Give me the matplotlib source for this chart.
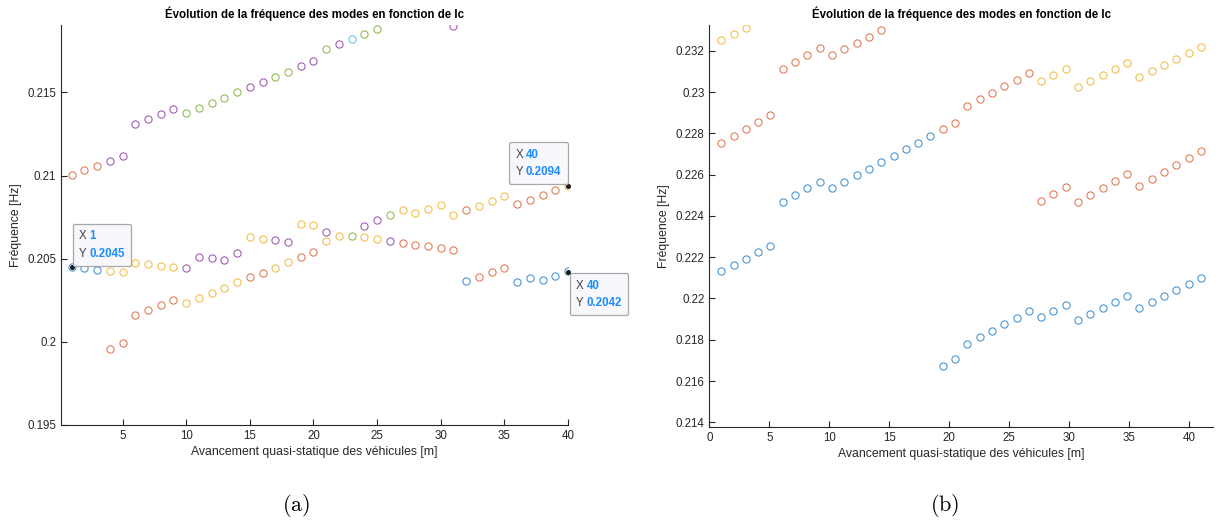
import numpy as np
import matplotlib
matplotlib.use("Agg")
import matplotlib.pyplot as plt
from matplotlib.offsetbox import AnnotationBbox, TextArea, HPacker, VPacker

plt.rcParams['font.family'] = ['Liberation Sans', 'DejaVu Sans']
plt.rcParams['mathtext.fontset'] = 'cm'

#%% data, panel (a): frequencies read per mode colour
xa_blue = [1, 2, 3, 32, 36, 37, 38, 39, 40]
ya_blue = [0.2045, 0.20443, 0.20433, 0.20365, 0.20357, 0.20383, 0.20369, 0.20397, 0.20424]

xa_orange = [1, 2, 3, 4, 5, 6, 7, 8, 9, 15, 16, 19, 20, 27, 28, 29, 30, 31, 32,
             33, 34, 35, 36, 37, 38, 39]
ya_orange = [0.21003, 0.21031, 0.21059, 0.1996, 0.19992, 0.20159, 0.20189, 0.20221,
             0.20251, 0.20387, 0.20417, 0.20509, 0.2054, 0.20594, 0.20584, 0.20575,
             0.20564, 0.20552, 0.20792, 0.20393, 0.20421, 0.20447, 0.20828, 0.20856,
             0.20884, 0.20912]

xa_yellow = [4, 5, 6, 7, 8, 9, 10, 11, 12, 13, 14, 15, 16, 17, 18, 19, 20, 21, 22,
             24, 25, 27, 28, 29, 30, 31, 33, 34, 35, 40]
ya_yellow = [0.20425, 0.20419, 0.20475, 0.20467, 0.20459, 0.20451, 0.20233, 0.20265,
             0.20295, 0.20325, 0.20357, 0.2063, 0.2062, 0.20447, 0.20479, 0.2071,
             0.20702, 0.20606, 0.20638, 0.20628, 0.20618, 0.20792, 0.20772, 0.20796,
             0.20824, 0.20764, 0.20818, 0.20848, 0.20876, 0.2094]

xa_purple = [4, 5, 6, 7, 8, 9, 10, 11, 12, 13, 14, 15, 16, 17, 18, 19, 20, 21, 22,
             24, 25, 26, 31]
ya_purple = [0.21087, 0.21119, 0.21308, 0.21338, 0.21368, 0.21402, 0.20443, 0.20512,
             0.20503, 0.20494, 0.20534, 0.2153, 0.21562, 0.20612, 0.20602, 0.21656,
             0.21686, 0.20662, 0.21792, 0.20698, 0.2073, 0.20606, 0.21899]

xa_green = [10, 11, 12, 13, 14, 17, 18, 21, 23, 24, 25, 26]
ya_green = [0.21377, 0.21408, 0.21438, 0.21468, 0.215, 0.21592, 0.21624, 0.2176,
            0.20638, 0.21853, 0.21883, 0.20762]

xa_cyan = [23]
ya_cyan = [0.21821]

# data tips shown on panel (a)
tips_x = [1, 40, 40]
tips_y = [0.2045, 0.2094, 0.2042]
tips_lab = ['1', '40', '40']
tips_val = ['0.2045', '0.2094', '0.2042']

#%% data, panel (b)
avancement_b = [1.00, 2.03, 3.05, 4.08, 5.10, 6.13, 7.15, 8.18, 9.21, 10.23, 11.26,
                12.28, 13.31, 14.33, 15.36, 16.38, 17.41, 18.44, 19.46, 20.49, 21.51,
                22.54, 23.56, 24.59, 25.62, 26.64, 27.67, 28.69, 29.72, 30.74, 31.77,
                32.79, 33.82, 34.85, 35.87, 36.90, 37.92, 38.95, 39.97, 41.00]

xb_blue = avancement_b
yb_blue = [0.22134, 0.22163, 0.22193, 0.22224, 0.22256, 0.22469, 0.22501, 0.22534,
           0.22564, 0.22534, 0.22564, 0.22597, 0.22629, 0.22659, 0.22691, 0.22724,
           0.22754, 0.22787, 0.21673, 0.21705, 0.21779, 0.21812, 0.21844, 0.21875,
           0.21907, 0.21939, 0.2191, 0.21939, 0.21968, 0.21896, 0.21925, 0.21954,
           0.21983, 0.22012, 0.21954, 0.21984, 0.22012, 0.22041, 0.22071, 0.221]

xb_orange = avancement_b[:14] + avancement_b[18:]
yb_orange = [0.22753, 0.22787, 0.22821, 0.22855, 0.22887, 0.2311, 0.23144, 0.23179,
             0.23212, 0.23178, 0.23208, 0.23239, 0.23268, 0.23299, 0.22819, 0.22851,
             0.22932, 0.22965, 0.22997, 0.23028, 0.2306, 0.23091, 0.22472, 0.22506,
             0.2254, 0.22467, 0.22501, 0.22535, 0.22567, 0.22603, 0.22545, 0.22577,
             0.22613, 0.22646, 0.22679, 0.22713]

xb_yellow = avancement_b[:3] + avancement_b[26:]
yb_yellow = [0.23252, 0.23281, 0.23312, 0.23053, 0.23082, 0.23111, 0.23024, 0.23055,
             0.23082, 0.23111, 0.23142, 0.23073, 0.23102, 0.23131, 0.23158, 0.23187,
             0.23217]

#%% styles
colors = {'blue': '#3d8fd1', 'orange': '#e27650', 'yellow': '#f2bd45',
          'purple': '#9a55ad', 'green': '#8ab84c', 'cyan': '#5cc3ee'}
axcol = '#262626'
title = 'Évolution de la fréquence des modes en fonction de lc'
xlab = 'Avancement quasi-statique des véhicules [m]'
ylab = 'Fréquence [Hz]'


def style_axes(ax):
    for s in ['top', 'right']:
        ax.spines[s].set_visible(False)
    for s in ['left', 'bottom']:
        ax.spines[s].set_color(axcol)
        ax.spines[s].set_linewidth(0.8)
    ax.tick_params(direction='in', length=4, width=0.8, colors=axcol, labelsize=8.3)
    ax.set_title(title, fontsize=8.3, fontweight='bold', color='black', pad=5)
    ax.set_xlabel(xlab, fontsize=8.8, color=axcol, labelpad=3)
    ax.set_ylabel(ylab, fontsize=8.8, color=axcol, labelpad=4)


def circles(ax, x, y, col):
    ax.plot(x, y, 'o', ls='none', mfc='none', mec=colors[col], ms=5.2, mew=0.75,
            clip_on=True)


fig = plt.figure(figsize=(12.19, 5.25), dpi=100)
ax1 = fig.add_axes([0.05004, 0.19048, 0.41592, 0.7624])
ax2 = fig.add_axes([0.58187, 0.18724, 0.4132, 0.76514])

#%% panel (a)
circles(ax1, xa_blue, ya_blue, 'blue')
circles(ax1, xa_orange, ya_orange, 'orange')
circles(ax1, xa_yellow, ya_yellow, 'yellow')
circles(ax1, xa_purple, ya_purple, 'purple')
circles(ax1, xa_green, ya_green, 'green')
circles(ax1, xa_cyan, ya_cyan, 'cyan')
ax1.set_xlim(0.16, 40)
ax1.set_ylim(0.195, 0.21907)
ax1.set_xticks([5, 10, 15, 20, 25, 30, 35, 40])
ax1.set_yticks([0.195, 0.2, 0.205, 0.21, 0.215])
ax1.set_yticklabels(['0.195', '0.2', '0.205', '0.21', '0.215'])
style_axes(ax1)

# datatips (frame corner sits next to the tipped point)
aligns = [(0, 0), (1, 0), (0, 1)]
offsets = [(5.3, 5.3), (-4.8, 5.3), (5.9, -5.5)]
for i in range(len(tips_x)):
    ax1.plot(tips_x[i], tips_y[i], 'o', color='#1a1a1a', ms=2.6, zorder=6, clip_on=False)
    row1 = HPacker(children=[TextArea('X', textprops=dict(color='#404040', size=8.3)),
                             TextArea(tips_lab[i], textprops=dict(color='#1a8cff', size=8.3,
                                                                  weight='bold'))],
                   pad=0, sep=2)
    row2 = HPacker(children=[TextArea('Y', textprops=dict(color='#404040', size=8.3)),
                             TextArea(tips_val[i], textprops=dict(color='#1a8cff', size=8.3,
                                                                  weight='bold'))],
                   pad=0, sep=2)
    box = VPacker(children=[row1, row2], pad=0, sep=4, align='left')
    ab = AnnotationBbox(box, (tips_x[i], tips_y[i]), xybox=offsets[i],
                        boxcoords='offset points', box_alignment=aligns[i],
                        frameon=True, pad=0.45, annotation_clip=False,
                        bboxprops=dict(boxstyle='round,pad=0.45,rounding_size=0.15',
                                       fc='#f8f8fc', ec='#a8a8a8', lw=0.9))
    ab.zorder = 7
    ax1.add_artist(ab)

#%% panel (b)
circles(ax2, xb_blue, yb_blue, 'blue')
circles(ax2, xb_orange, yb_orange, 'orange')
circles(ax2, xb_yellow, yb_yellow, 'yellow')
ax2.set_xlim(0, 42)
ax2.set_ylim(0.21379, 0.233245)
ax2.set_xticks([0, 5, 10, 15, 20, 25, 30, 35, 40])
yt = [0.214, 0.216, 0.218, 0.22, 0.222, 0.224, 0.226, 0.228, 0.23, 0.232]
ax2.set_yticks(yt)
ax2.set_yticklabels([f'{v:g}' for v in yt])
style_axes(ax2)

# sub-figure captions
fig.text(0.2428, 0.038, r'$\mathrm{(a)}$', fontsize=16, ha='center', va='center')
fig.text(0.7752, 0.038, r'$\mathrm{(b)}$', fontsize=16, ha='center', va='center')

fig.savefig('out.png', dpi=100)
